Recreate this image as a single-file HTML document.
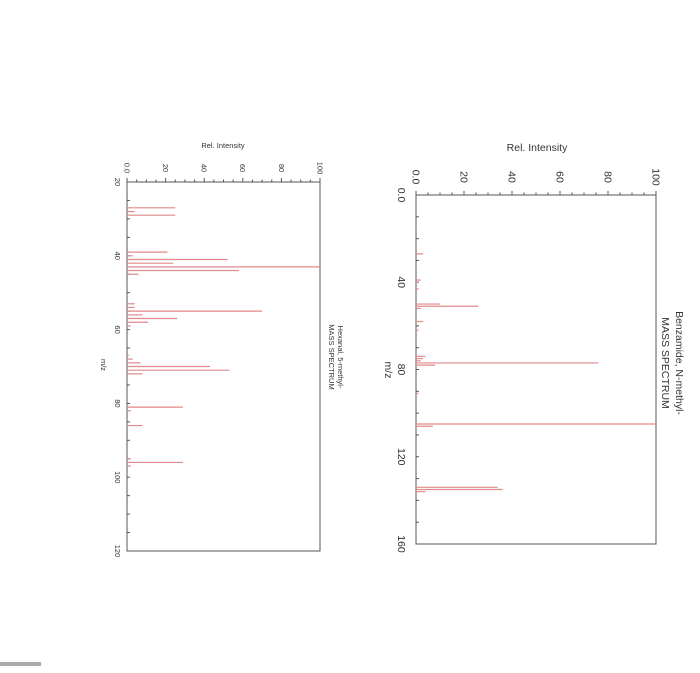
<!DOCTYPE html>
<html><head><meta charset="utf-8"><style>
html,body{margin:0;padding:0;background:#fff;width:700px;height:673px;overflow:hidden}
svg{display:block}
text{font-family:"Liberation Sans","DejaVu Sans",sans-serif;fill:#333}
</style></head><body>
<svg id="svg" width="700" height="673">
<rect x="0" y="662" width="41" height="4" fill="#aaa"/>
</svg>
<script>
// Benzamide, N-methyl- spectrum
const benzMz = [27,39,40,43,50,51,52,58,62,74,75,76,77,78,91,105,106,134,135,136];
const benzInt = [3,2,1,1,10,26,2,3,1,4,3,2,76,8,1,100,7,34,36,4];
const benzMzTicks = [0,40,80,120,160];
const benzMzLabels = ["0.0","40","80","120","160"];
const benzIntTicks = [0,20,40,60,80,100];
const benzIntLabels = ["0.0","20","40","60","80","100"];
// Hexanal, 5-methyl- spectrum
const hexMz = [27,28,29,39,40,41,42,43,44,45,53,54,55,56,57,58,59,67,68,69,70,71,72,81,82,86,95,96,97,114];
const hexInt = [25,4,25,21,3,52,24,100,58,6,4,4,70,8,26,11,2,1,3,7,43,53,8,29,2,8,2,29,2,0.5];
const hexMzTicks = [20,40,60,80,100,120];
const hexMzLabels = ["20","40","60","80","100","120"];
const hexIntTicks = [0,20,40,60,80,100];
const hexIntLabels = ["0.0","20","40","60","80","100"];

const NS="http://www.w3.org/2000/svg";
const svg=document.getElementById('svg');
function mk(tag,attrs,parent){const e=document.createElementNS(NS,tag);for(const k in attrs)e.setAttribute(k,attrs[k]);(parent||svg).appendChild(e);return e;}

function chart(cfg){
  const g=mk('g',{});
  
  
  const xI=v=>cfg.x0+(cfg.x1-cfg.x0)*v/100;
  const yM=m=>cfg.y0+(cfg.y1-cfg.y0)*(m-cfg.mMin)/(cfg.mMax-cfg.mMin);
  const box=mk('rect',{x:cfg.x0,y:cfg.y0,width:cfg.x1-cfg.x0,height:cfg.y1-cfg.y0,fill:'none',stroke:'#555','stroke-width':1},g);
  
  
  for(let v=0;v<=100;v+=5){const x=xI(v);mk('line',{x1:x,x2:x,y1:cfg.y0,y2:cfg.y0-(v%20==0?4:2.5),stroke:'#555','stroke-width':1},g);}
  cfg.iTicks.forEach((v,i)=>{const x=xI(v);const t=mk('text',{x:0,y:0,transform:`translate(${x-cfg.fs*0.35},${cfg.iLabY}) rotate(90)`,'font-size':cfg.fs,'text-anchor':'middle'},g);t.textContent=cfg.iLabels[i];
    
    });
  for(let m=cfg.mMin;m<=cfg.mMax;m+=cfg.mMinor){const y=yM(m);mk('line',{x1:cfg.x0,x2:cfg.x0+3,y1:y,y2:y,stroke:'#555','stroke-width':1},g);}
  cfg.mTicks.forEach((m,i)=>{const y=yM(m);const t=mk('text',{x:0,y:0,transform:`translate(${cfg.mLabX},${y}) rotate(90)`,'font-size':cfg.fs,'text-anchor':'middle'},g);t.textContent=cfg.mLabels[i];
    
    });
  cfg.mz.forEach((m,i)=>{const y=yM(m);const b=mk('line',{x1:cfg.x0,x2:xI(cfg.int[i]),y1:y,y2:y,stroke:'#e08a8a','stroke-width':1.2},g);
    
    });
  const yt=mk('text',{x:cfg.riX,y:cfg.riY,'font-size':cfg.fs,'text-anchor':'middle'},g);yt.textContent='Rel. Intensity';
  
  
  const xt=mk('text',{x:0,y:0,transform:`translate(${cfg.mzX},${cfg.mzY}) rotate(90)`,'font-size':cfg.fs,'text-anchor':'middle'},g);xt.textContent='m/z';
  
  
  const t1=mk('text',{x:0,y:0,transform:`translate(${cfg.tX1},${cfg.tY}) rotate(90)`,'font-size':cfg.fs,'text-anchor':'middle'},g);t1.textContent=cfg.title;
  
  
  const t2=mk('text',{x:0,y:0,transform:`translate(${cfg.tX2},${cfg.tY}) rotate(90)`,'font-size':cfg.fs,'text-anchor':'middle'},g);t2.textContent='MASS SPECTRUM';
  
  
}
chart({name:'benzamide-spectrum',x0:416,x1:656,y0:195,y1:544,mMin:0,mMax:160,mMinor:10,
  mz:benzMz,int:benzInt,mTicks:benzMzTicks,mLabels:benzMzLabels,iTicks:benzIntTicks,iLabels:benzIntLabels,
  fs:10.5,iLabY:177,mLabX:398,riX:537,riY:151,mzX:385,mzY:370,title:'Benzamide, N-methyl-',tX1:676,tX2:662,tY:363});
chart({name:'hexanal-spectrum',x0:127,x1:320,y0:182,y1:551,mMin:20,mMax:120,mMinor:5,
  mz:hexMz,int:hexInt,mTicks:hexMzTicks,mLabels:hexMzLabels,iTicks:hexIntTicks,iLabels:hexIntLabels,
  fs:7.5,iLabY:168,mLabX:115,riX:223,riY:148,mzX:101,mzY:365,title:'Hexanal, 5-methyl-',tX1:338,tX2:329,tY:357});
</script>
</body></html>
